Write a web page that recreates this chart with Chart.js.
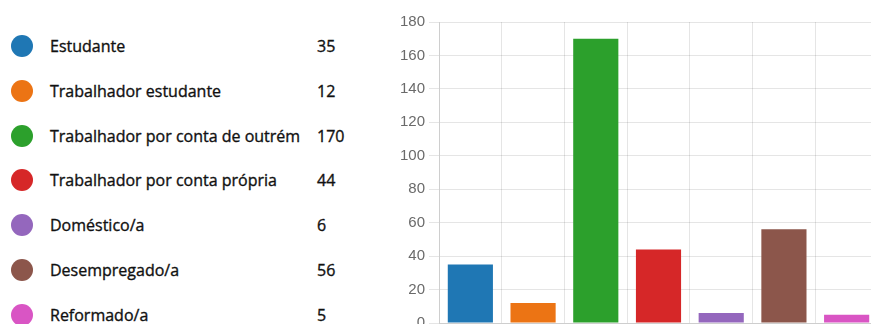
<!DOCTYPE html>
<html>
<head>
<meta charset="utf-8">
<script src="https://cdn.jsdelivr.net/npm/chart.js@4"></script>
<style>
  html, body { margin: 0; padding: 0; width: 871px; height: 324px; overflow: hidden; background: #fff; }
  #legend { position: absolute; left: 0; top: 0; width: 380px; height: 324px; font-family: "Open Sans", sans-serif; font-size: 16px; color: #111; -webkit-text-stroke: 0.35px #111; }
  .row { position: absolute; left: 0; height: 24px; line-height: 24px; width: 370px; }
  .dot { position: absolute; left: 11px; top: 1px; width: 22px; height: 22px; border-radius: 50%; }
  .lbl { position: absolute; left: 50px; top: 0; white-space: nowrap; }
  .val { position: absolute; left: 317px; top: 0; }
  #wrap { position: absolute; left: 380px; top: 0; width: 498px; height: 360px; }
</style>
</head>
<body>
<div id="legend"></div>
<div id="wrap"><canvas id="chartCanvas"></canvas></div>
<script>
var categories = ['Estudante', 'Trabalhador estudante', 'Trabalhador por conta de outrém', 'Trabalhador por conta própria', 'Doméstico/a', 'Desempregado/a', 'Reformado/a'];
var counts = [35, 12, 170, 44, 6, 56, 5];
var colors = ['#1f77b4', '#ec7414', '#2ca02c', '#d62728', '#9467bd', '#8c564b', '#d955c4'];
var yTicks = [0, 20, 40, 60, 80, 100, 120, 140, 160, 180];

// legend on the left, built from the same arrays
var legend = document.getElementById('legend');
categories.forEach(function (name, i) {
  var row = document.createElement('div');
  row.className = 'row';
  row.style.top = (34 + i * 44.8) + 'px';
  row.innerHTML = '<span class="dot" style="background:' + colors[i] + ';-webkit-text-stroke:0"></span>' +
    '<span class="lbl">' + name + '</span><span class="val">' + counts[i] + '</span>';
  legend.appendChild(row);
});

var ctx = document.getElementById('chartCanvas').getContext('2d');
var chart = new Chart(ctx, {
  type: 'bar',
  data: {
    labels: categories,
    datasets: [{
      data: counts,
      backgroundColor: colors,
      borderWidth: 0
    }]
  },
  options: {
    responsive: true,
    maintainAspectRatio: false,
    animation: false,
    layout: { padding: { top: 22, left: 0, right: 0, bottom: 0 } },
    plugins: { legend: { display: false }, tooltip: { enabled: false } },
    scales: {
      x: {
        ticks: { display: false },
        grid: { color: 'rgba(0,0,0,0.1)' },
        afterFit: function (s) { s.height = 37; }
      },
      y: {
        min: 0,
        max: 180,
        afterBuildTicks: function (s) { s.ticks = yTicks.map(function (v) { return { value: v }; }); },
        ticks: { color: '#6a6a6a', font: { family: 'Liberation Sans', size: 15 }, padding: 4 },
        grid: { color: 'rgba(0,0,0,0.1)', tickLength: 10 },
        afterFit: function (s) { s.width = 59; }
      }
    }
  }
});
</script>
</body>
</html>
